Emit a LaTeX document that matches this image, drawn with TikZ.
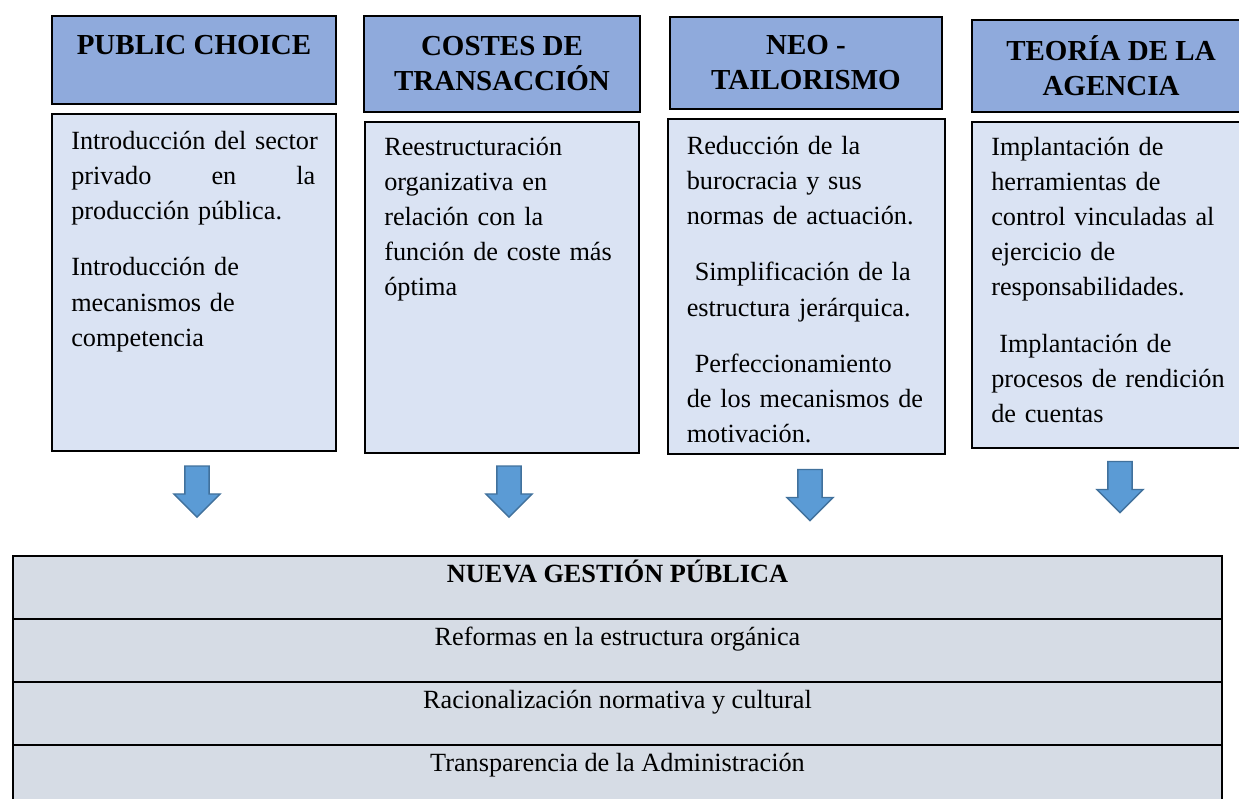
\documentclass[tikz,border=0pt]{standalone}
\usepackage{fontspec}
\setmainfont{Liberation Serif}
\usetikzlibrary{shapes.arrows, positioning}
\definecolor{headblue}{HTML}{8FAADC}
\definecolor{bodyblue}{HTML}{DAE3F3}
\definecolor{rowgray}{HTML}{D6DCE5}
\definecolor{arrowfill}{HTML}{5B9BD5}
\definecolor{arrowline}{HTML}{41719C}
\tikzstyle{headbox} = [rectangle, draw=black, line width=1.5pt, fill=headblue, align=center, inner sep=0pt, font=\fontsize{21.75pt}{26.25pt}\selectfont\bfseries]
\tikzstyle{bodybox} = [rectangle, draw=black, line width=1.5pt, fill=bodyblue, inner sep=0pt]
\tikzstyle{bodytext} = [anchor=base west, inner sep=0pt, align=left, text width=190pt, font=\fontsize{19.7pt}{26.25pt}\selectfont]
\tikzstyle{blockarrow} = [single arrow, draw=arrowline, fill=arrowfill, line width=1pt, rotate=-90, minimum height=38.25pt, inner xsep=0pt, inner ysep=8.6pt, single arrow head extend=8.25pt]
\tikzstyle{rowbox} = [rectangle, draw=black, line width=1.5pt, fill=rowgray, minimum width=906.75pt, minimum height=47.25pt, inner sep=0pt]
\tikzstyle{rowtext} = [anchor=base, inner sep=0pt, font=\fontsize{19.7pt}{26.25pt}\selectfont]

\begin{document}
\begin{tikzpicture}[x=0.75pt, y=-0.75pt, node distance=6pt]
	\useasboundingbox (0,0) rectangle (1239,799);

	% theory headers
	\node (hPC) [headbox, minimum width=213pt, minimum height=66pt] at (194,60) {PUBLIC CHOICE\\[-3pt]\mbox{}};
	\node (hCT) [headbox, minimum width=207pt, minimum height=72pt] at (502,64) {COSTES DE\\TRANSACCIÓN};
	\node (hNT) [headbox, minimum width=204pt, minimum height=69pt] at (806,63) {NEO -\\TAILORISMO};
	\node (hTA) [headbox, minimum width=208.5pt, minimum height=69pt] at (1111,66) {TEORÍA DE LA\\AGENCIA};

	% boxes under the headers
	\node (bPC) [bodybox, below=of hPC, minimum width=213pt, minimum height=252.75pt] {};
	\node (bCT) [bodybox, below=of hCT, minimum width=205.5pt, minimum height=248.25pt] {};
	\node (bNT) [bodybox, below=6pt of hNT, minimum width=207.75pt, minimum height=251pt] {};
	\node (bTA) [bodybox, below=of hTA, minimum width=208.5pt, minimum height=244.5pt] {};

	\node (tPC) [bodytext, text width=183pt] at ([shift={(20,36)}]bPC.north west) {\mbox{Introducción del sector}\\privado\hfill en\hfill la\\producción pública.\\[16.5pt]Introducción de\\mecanismos de\\competencia};
	\node (tCT) [bodytext] at ([shift={(20,35)}]bCT.north west) {Reestructuración\\organizativa en\\relación con la\\función de coste más\\óptima};
	\node (tNT) [bodytext] at ([shift={(20,36)}]bNT.north west) {Reducción de la\\burocracia y sus\\normas de actuación.\\[16.5pt]\hspace*{6pt}Simplificación de la\\estructura jerárquica.\\[16.5pt]\hspace*{6pt}Perfeccionamiento\\de los mecanismos de\\motivación.};
	\node (tTA) [bodytext] at ([shift={(20,35)}]bTA.north west) {Implantación de\\herramientas de\\control vinculadas al\\ejercicio de\\responsabilidades.\\[16.5pt]\hspace*{6pt}Implantación de\\procesos de rendición\\de cuentas};

	% block arrows
	\node (aPC) [blockarrow] at (197,485.5) {};
	\node (aCT) [blockarrow] at (509,485.5) {};
	\node (aNT) [blockarrow] at (810,489) {};
	\node (aTA) [blockarrow] at (1120,481) {};

	% result table
	\node (r1) [rowbox] at (617.5,587.5) {};
	\node (r2) [rowbox] at (617.5,650.5) {};
	\node (r3) [rowbox] at (617.5,713.5) {};
	\node (r4) [rowbox] at (617.5,776.5) {};

	\node (r1t) [rowtext] at ([yshift=-20.25pt]r1.north) {\textbf{NUEVA GESTIÓN PÚBLICA}};
	\node (r2t) [rowtext] at ([yshift=-20.25pt]r2.north) {Reformas en la estructura orgánica};
	\node (r3t) [rowtext] at ([yshift=-20.25pt]r3.north) {Racionalización normativa y cultural};
	\node (r4t) [rowtext] at ([yshift=-20.25pt]r4.north) {Transparencia de la Administración};
\end{tikzpicture}
\end{document}
